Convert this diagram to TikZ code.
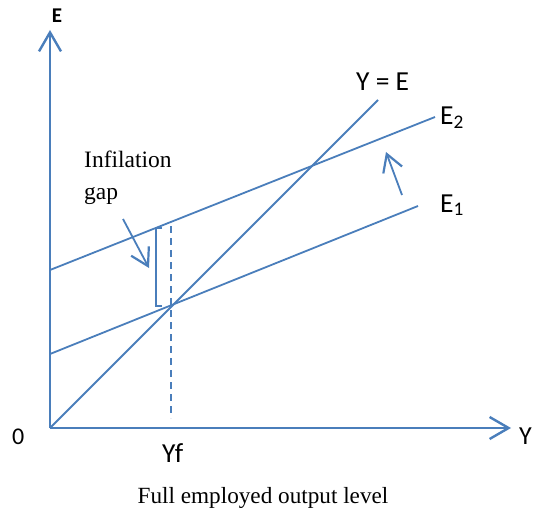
\documentclass[tikz,border=0pt]{standalone}
\usepackage{fontspec}
\setmainfont{Liberation Serif}
\newfontfamily\carlitofont{Carlito}
\usetikzlibrary{arrows.meta}
\definecolor{lineblue}{RGB}{74,126,187}
\tikzset{
  axis/.style={draw=lineblue, line width=2.4pt},
  curve/.style={draw=lineblue, line width=1.8pt},
  barb/.style={-{Straight Barb[length=17pt,width=20pt,line width=2.2pt]}},
  lbl/.style={inner sep=0pt, anchor=base west, font=\carlitofont\fontsize{27.5}{30}\selectfont},
}
\begin{document}
\begin{tikzpicture}[x=1pt,y=-1pt]
\useasboundingbox (0,0) rectangle (534,510);
% coordinates
\coordinate (O) at (50,428);
\coordinate (ytop) at (50,30);
\coordinate (xend) at (511,428);
\coordinate (yeEnd) at (378,100);
\coordinate (e2s) at (50,270);
\coordinate (e2e) at (435,117);
\coordinate (e1s) at (50,354);
\coordinate (e1e) at (418,206);
\coordinate (dtop) at (171,226);
\coordinate (dbot) at (171,418);
\coordinate (btop) at (156,228);
\coordinate (bbot) at (156,306);
\coordinate (gs) at (123,219);
\coordinate (ge) at (149,268);
\coordinate (us) at (402,195);
\coordinate (ue) at (386,152);
% axes
\draw[axis, -{Straight Barb[length=19pt,width=22pt,line width=2.4pt]}] (O) -- (ytop);
\draw[axis, -{Straight Barb[length=19pt,width=22pt,line width=2.4pt]}] (O) -- (xend);
% lines
\draw[curve] (O) -- (yeEnd);
\draw[curve] (e2s) -- (e2e);
\draw[curve] (e1s) -- (e1e);
\draw[curve, dash pattern=on 7pt off 5pt] (dtop) -- (dbot);
\draw[curve] ([xshift=6pt]btop) -- (btop) -- (bbot) -- ([xshift=6pt]bbot);
\draw[curve, barb] (gs) -- (ge);
\draw[curve, barb] (us) -- (ue);
% labels
\node[inner sep=0pt, anchor=base, font=\carlitofont\bfseries\fontsize{21}{24}\selectfont] (lE) at (57,23) {E};
\node[lbl] (lYE) at (356,91) {Y = E};
\node[lbl] (lE2) at (440,125) {E\textsubscript{2}};
\node[lbl] (lE1) at (440,212) {E\textsubscript{1}};
\node[lbl, font=\carlitofont\fontsize{24}{28}\selectfont] (l0) at (12,444) {0};
\node[lbl, font=\carlitofont\fontsize{26}{30}\selectfont] (lY) at (519,444) {Y};
\node[lbl] (lYf) at (162,462) {Yf};
\node[inner sep=0pt, anchor=base west, font=\fontsize{23.5}{26}\selectfont] (inf) at (84,168) {Infilation};
\node[inner sep=0pt, anchor=base west, font=\fontsize{23.5}{26}\selectfont] (gap) at (84,200) {gap};
\node[inner sep=0pt, anchor=base, font=\fontsize{23.2}{26}\selectfont] (cap) at (263,503) {Full employed output level};
\end{tikzpicture}
\end{document}
